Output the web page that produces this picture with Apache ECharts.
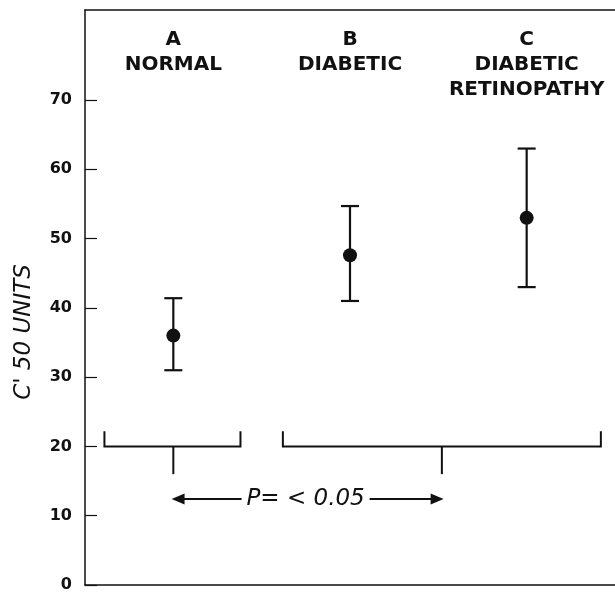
<!DOCTYPE html>
<html>
<head>
<meta charset="utf-8">
<script src="https://cdn.jsdelivr.net/npm/echarts@6/dist/echarts.min.js"></script>
<style>html,body{margin:0;padding:0;background:#fff}#c{width:615px;height:593px}</style>
</head>
<body>
<div id="c"></div>
<script>
// ---- data ----
const categories = ['A\nNORMAL', 'B\nDIABETIC', 'C\nDIABETIC\nRETINOPATHY'];
const means = [36, 47.6, 53];
const lows = [31, 41, 43];
const highs = [41.4, 54.7, 63];
const yTicks = [0, 10, 20, 30, 40, 50, 60, 70];
// comparison brackets (x in category units, 0..3)
const bracketStart = [0.11, 1.12];
const bracketEnd = [0.88, 2.92];
const bracketStem = [0.5, 2.02];
const bracketLevel = 20;
const bracketTop = 22.2;
const stemBottom = 16;
const arrowFrom = 0.49, arrowTo = 2.03, arrowLevel = 12.4;
const pText = 'P= < 0.05';
const yTitle = "C' 50 UNITS";

const INK = '#111';
const chart = echarts.init(document.getElementById('c'));

const errData = means.map((m, i) => [i + 0.5, m, lows[i], highs[i]]);
const bracketData = bracketStart.map((s, i) => [s, bracketEnd[i], bracketStem[i]]);

chart.setOption({
  animation: false,
  grid: { left: 85, right: 0, top: 10, bottom: 6 },
  graphic: [
    { type: 'text', x: 24, y: 332, rotation: Math.PI / 2,
      style: { text: yTitle, align: 'center', verticalAlign: 'middle', fontSize: 23,
        fontStyle: 'italic', fontFamily: 'DejaVu Sans', fill: INK } }
  ],
  xAxis: [
    { type: 'value', min: 0, max: 3, position: 'bottom',
      axisLine: { show: true, lineStyle: { color: INK, width: 1.5 } },
      axisTick: { show: false }, axisLabel: { show: false }, splitLine: { show: false } },
    { type: 'category', data: categories, position: 'top', boundaryGap: true,
      axisLine: { show: true, lineStyle: { color: INK, width: 1.5 } },
      axisTick: { show: false },
      axisLabel: { inside: true, interval: 0, hideOverlap: false, margin: 17, color: INK, fontSize: 20, lineHeight: 25, fontWeight: 'bold',
        fontFamily: 'DejaVu Sans', verticalAlign: 'top', align: 'center' } }
  ],
  yAxis: {
    type: 'value', min: 0, max: 83, interval: 10,
    axisLine: { show: true, lineStyle: { color: INK, width: 1.5 } },
    axisTick: { show: true, inside: true, length: 12, customValues: yTicks, lineStyle: { color: INK, width: 1.2 } },
    axisLabel: { customValues: yTicks, margin: 13, fontSize: 16, fontWeight: 'bold', color: INK, fontFamily: 'DejaVu Sans' },
    splitLine: { show: false }
  },
  series: [
    { type: 'custom', xAxisIndex: 0, data: errData,
      renderItem: (params, api) => {
        const x = api.value(0);
        const pm = api.coord([x, api.value(1)]);
        const pl = api.coord([x, api.value(2)]);
        const ph = api.coord([x, api.value(3)]);
        const cw = 9;
        const ls = { stroke: INK, lineWidth: 2.2 };
        return { type: 'group', children: [
          { type: 'line', shape: { x1: pl[0], y1: pl[1], x2: ph[0], y2: ph[1] }, style: ls },
          { type: 'line', shape: { x1: pl[0] - cw, y1: pl[1], x2: pl[0] + cw, y2: pl[1] }, style: ls },
          { type: 'line', shape: { x1: ph[0] - cw, y1: ph[1], x2: ph[0] + cw, y2: ph[1] }, style: ls },
          { type: 'circle', shape: { cx: pm[0], cy: pm[1], r: 7 }, style: { fill: INK } }
        ] };
      } },
    { type: 'custom', xAxisIndex: 0, data: bracketData,
      renderItem: (params, api) => {
        const s = api.value(0), e = api.value(1), m = api.value(2);
        const a = api.coord([s, bracketTop]), b = api.coord([s, bracketLevel]);
        const c = api.coord([e, bracketLevel]), d = api.coord([e, bracketTop]);
        const m1 = api.coord([m, bracketLevel]), m2 = api.coord([m, stemBottom]);
        const ls = { stroke: INK, lineWidth: 2, fill: null };
        return { type: 'group', children: [
          { type: 'polyline', shape: { points: [a, b, c, d] }, style: ls },
          { type: 'line', shape: { x1: m1[0], y1: m1[1], x2: m2[0], y2: m2[1] }, style: ls }
        ] };
      } },
    { type: 'custom', xAxisIndex: 0, data: [[arrowFrom, arrowTo, arrowLevel]],
      renderItem: (params, api) => {
        const f = api.coord([api.value(0), api.value(2)]);
        const t = api.coord([api.value(1), api.value(2)]);
        const mid = (f[0] + t[0]) / 2;
        const half = 62;
        const y = f[1];
        const ls = { stroke: INK, lineWidth: 2 };
        const hl = 13, hw = 5.5;
        return { type: 'group', children: [
          { type: 'line', shape: { x1: f[0] + hl - 1, y1: y, x2: mid - half - 4, y2: y }, style: ls },
          { type: 'polygon', shape: { points: [[f[0], y], [f[0] + hl, y - hw], [f[0] + hl, y + hw]] }, style: { fill: INK } },
          { type: 'line', shape: { x1: mid + half, y1: y, x2: t[0] - hl + 1, y2: y }, style: ls },
          { type: 'polygon', shape: { points: [[t[0], y], [t[0] - hl, y - hw], [t[0] - hl, y + hw]] }, style: { fill: INK } },
          { type: 'text', style: { x: mid - 2, y: y, text: pText, align: 'center', verticalAlign: 'middle',
            fontSize: 23, fontStyle: 'italic', fontFamily: 'DejaVu Sans', fill: INK } }
        ] };
      } }
  ]
});
</script>
</body>
</html>
